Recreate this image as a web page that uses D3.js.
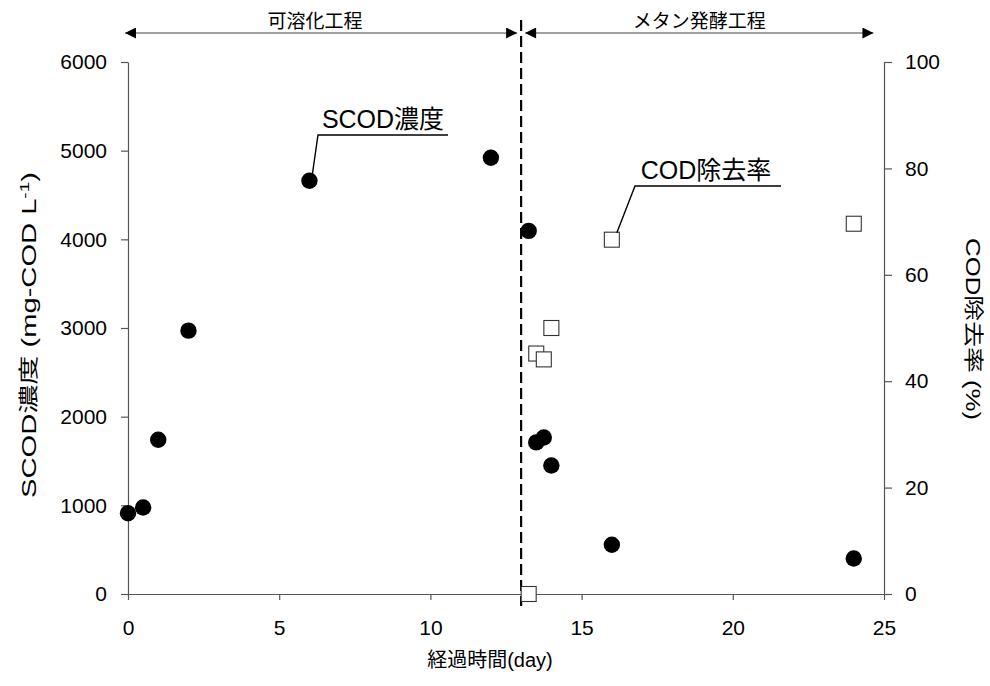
<!DOCTYPE html>
<html>
<head>
<meta charset="utf-8">
<script src="https://cdn.jsdelivr.net/npm/d3@7"></script>
<style>
  body { margin: 0; background: #fff; }
  svg { display: block; font-family: "Liberation Sans", Arial, "Noto Sans CJK JP", sans-serif; }
</style>
</head>
<body>
<svg id="chart" width="990" height="686"></svg>
<script>
// Elapsed time (day) for SCOD concentration
const scodDays = [0, 0.5, 1, 2, 6, 12, 13.25, 13.5, 13.75, 14, 16, 24];
// SCOD concentration (mg-COD/L)
const scodValues = [910, 975, 1740, 2970, 4660, 4920, 4095, 1710, 1765, 1450, 555, 400];
// Elapsed time (day) for COD removal rate
const removalDays = [13.25, 13.5, 13.75, 14, 16, 24];
// COD removal rate (%)
const removalValues = [0, 45.2, 44.1, 50.0, 66.6, 69.6];

const xTicks = [0, 5, 10, 15, 20, 25];
const yLeftTicks = [0, 1000, 2000, 3000, 4000, 5000, 6000];
const yRightTicks = [0, 20, 40, 60, 80, 100];
const phaseBoundary = 13;
const phases = ["可溶化工程", "メタン発酵工程"];

const svg = d3.select("#chart");
const jp = "'Liberation Sans', Arial, 'Noto Sans CJK JP', sans-serif";

const x = d3.scaleLinear().domain([0, 25]).range([128, 884]);
const yL = d3.scaleLinear().domain([0, 6000]).range([594, 62]);
const yR = d3.scaleLinear().domain([0, 100]).range([594, 62]);

const axisColor = "#555";
const fmt = d3.format("d");

// Left axis
const gL = svg.append("g").attr("transform", `translate(${x(0)},0)`)
  .call(d3.axisLeft(yL).tickValues(yLeftTicks).tickFormat(fmt)
    .tickSize(7).tickPadding(14).tickSizeOuter(0));
// Right axis
const gR = svg.append("g").attr("transform", `translate(${x(25)},0)`)
  .call(d3.axisRight(yR).tickValues(yRightTicks).tickFormat(fmt)
    .tickSize(8).tickPadding(13).tickSizeOuter(0));
// Bottom axis
const gB = svg.append("g").attr("transform", `translate(0,${yL(0)})`)
  .call(d3.axisBottom(x).tickValues(xTicks).tickFormat(fmt)
    .tickSize(6).tickPadding(20).tickSizeOuter(0));

[gL, gR, gB].forEach(g => {
  g.selectAll(".domain").attr("stroke", axisColor).attr("stroke-width", 1.2);
  g.selectAll(".tick line").attr("stroke", axisColor).attr("stroke-width", 1.2);
  g.selectAll(".tick text").attr("fill", "#000").style("font-size", "21px")
    .style("font-family", "'Liberation Sans', Arial, sans-serif");
});

// Phase boundary (dashed)
svg.append("line")
  .attr("x1", x(phaseBoundary)).attr("x2", x(phaseBoundary))
  .attr("y1", 20).attr("y2", 606)
  .attr("stroke", "#000").attr("stroke-width", 2.2)
  .attr("stroke-dasharray", "11,5");

// Phase arrows
const defs = svg.append("defs");
defs.append("marker").attr("id", "arrowEnd")
  .attr("viewBox", "0 0 10 10").attr("refX", 10).attr("refY", 5)
  .attr("markerWidth", 13).attr("markerHeight", 11).attr("markerUnits", "userSpaceOnUse")
  .attr("orient", "auto")
  .append("path").attr("d", "M0,0 L10,5 L0,10 Z").attr("fill", "#000");
defs.append("marker").attr("id", "arrowStart")
  .attr("viewBox", "0 0 10 10").attr("refX", 0).attr("refY", 5)
  .attr("markerWidth", 13).attr("markerHeight", 11).attr("markerUnits", "userSpaceOnUse")
  .attr("orient", "auto")
  .append("path").attr("d", "M10,0 L0,5 L10,10 Z").attr("fill", "#000");

const arrowY = 33;
const spans = [[x(-0.1), x(phaseBoundary) - 4], [x(phaseBoundary) + 4, x(24.65)]];
spans.forEach((s, i) => {
  svg.append("line")
    .attr("x1", s[0]).attr("x2", s[1]).attr("y1", arrowY).attr("y2", arrowY)
    .attr("stroke", "#444").attr("stroke-width", 1.2)
    .attr("marker-start", "url(#arrowStart)").attr("marker-end", "url(#arrowEnd)");
  svg.append("text")
    .attr("x", (s[0] + s[1]) / 2 + (i === 0 ? -6 : 0)).attr("y", 28)
    .attr("text-anchor", "middle").style("font-size", "19px").style("font-family", jp)
    .text(phases[i]);
});

// SCOD concentration: filled circles
svg.append("g").selectAll("circle")
  .data(scodDays.map((d, i) => [d, scodValues[i]]))
  .join("circle")
  .attr("cx", d => x(d[0])).attr("cy", d => yL(d[1]))
  .attr("r", 8.2).attr("fill", "#000");

// COD removal rate: open squares
const sq = 15;
svg.append("g").selectAll("rect")
  .data(removalDays.map((d, i) => [d, removalValues[i]]))
  .join("rect")
  .attr("x", d => x(d[0]) - sq / 2).attr("y", d => yR(d[1]) - sq / 2)
  .attr("width", sq).attr("height", sq)
  .attr("fill", "#fff").attr("stroke", "#333").attr("stroke-width", 1.1);

// Series callouts
function callout(px, py, kx, ky, ex, label, tx) {
  svg.append("path")
    .attr("d", `M${px},${py} L${kx},${ky} L${ex},${ky}`)
    .attr("fill", "none").attr("stroke", "#000").attr("stroke-width", 1.4);
  svg.append("text").attr("x", tx).attr("y", ky - 7)
    .attr("text-anchor", "middle").style("font-size", "25px").style("font-family", jp)
    .text(label);
}
callout(x(6) + 3, yL(4660) - 7, 318, 135, 448, "SCOD濃度", 383);
callout(x(16) + 5, yR(66.6) - 7, 635, 186, 781, "COD除去率", 706);

// Rotated axis title, stretched along its length to a target extent
function verticalTitle(cx, cy, angle, length, build) {
  const g = svg.append("g").attr("transform", `translate(${cx},${cy}) rotate(${angle})`);
  const t = g.append("text").attr("text-anchor", "middle").attr("dy", "0.35em")
    .style("font-size", "20px").style("font-family", jp);
  build(t);
  const w = t.node().getBBox().width;
  t.attr("transform", `scale(${length / w},1)`);
}

verticalTitle(29, 335, -90, 326, t => {
  t.append("tspan").text("SCOD濃度 (mg-COD L");
  t.append("tspan").attr("dy", -7).style("font-size", "13px").text("-1");
  t.append("tspan").attr("dy", 7).text(")");
});
verticalTitle(973, 329, 90, 182, t => t.text("COD除去率 (%)"));

svg.append("text")
  .attr("x", 490).attr("y", 667)
  .attr("text-anchor", "middle").style("font-size", "20px").style("font-family", jp)
  .text("経過時間(day)");
</script>
</body>
</html>
